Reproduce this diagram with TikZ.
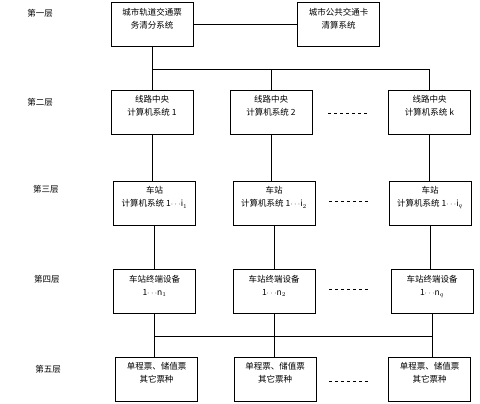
\documentclass[tikz,border=0pt]{standalone}
\usepackage{fontspec}
\newfontfamily\cjk{Noto Sans CJK SC}
\usetikzlibrary{positioning}

\begin{document}
\begin{tikzpicture}[x=1pt,y=-1pt,
    box/.style={draw,line width=0.8pt,minimum width=82pt,minimum height=44pt,inner sep=0pt},
    txt/.style={label={[anchor=north,yshift=-4pt,align=center,inner sep=2pt,
        font=\cjk\fontsize{8.5}{13}\selectfont]north:#1}},
    layer/.style={font=\cjk\fontsize{8.5}{10}\selectfont},
    wire/.style={line width=0.8pt},
    gap/.style={line width=0.8pt,dash pattern=on 3pt off 3pt}]
        \useasboundingbox (0,0) rectangle (480,404);

        % first layer
        \node[layer] (l1) at (40,13) {第一层};
        \node[box,txt={城市轨道交通票\\务清分系统}] (a1) at (152,24) {};
        \node[box,txt={城市公共交通卡\\清算系统}] (b1) at (338.5,24) {};
        \draw[wire] (a1) -- (b1);

        % second layer
        \node[layer] (l2) at (40,102) {第二层};
        \node[box,txt={线路中央\\计算机系统 1}] (c1) at (152,112) {};
        \node[box,txt={线路中央\\计算机系统 2}] (c2) at (271,112) {};
        \node[box,txt={线路中央\\计算机系统 k}] (c3) at (429.5,112) {};
        \coordinate (bus1) at (0,69);
        \draw[wire] (a1.south) -- (a1.south |- bus1) -- (c3.north |- bus1) -- (c3.north);
        \draw[wire] (c1.north) -- (c1.north |- bus1);
        \draw[wire] (c2.north) -- (c2.north |- bus1);
        \coordinate (g2a) at (328,113);
        \coordinate (g2b) at (369,113);
        \draw[gap] (g2a) -- (g2b);

        % third layer
        \node[layer] (l3) at (46,189) {第三层};
        \node[box,txt={车站\\计算机系统 1$\cdots$i$_1$}] (d1) at (154.5,203) {};
        \node[box,txt={车站\\计算机系统 1$\cdots$i$_2$}] (d2) at (274,203) {};
        \node[box,txt={车站\\计算机系统 1$\cdots$i$_q$}] (d3) at (430,203) {};
        \draw[wire] (c1.south) -- (c1.south |- d1.north);
        \draw[wire] (c2.south) -- (c2.south |- d2.north);
        \draw[wire] (c3.south) -- (c3.south |- d3.north);
        \coordinate (g3a) at (329,201);
        \coordinate (g3b) at (369,201);
        \draw[gap] (g3a) -- (g3b);

        % fourth layer
        \node[layer] (l4) at (47,279) {第四层};
        \node[box,txt={车站终端设备\\1$\cdots$n$_1$}] (e1) at (154.5,291.5) {};
        \node[box,txt={车站终端设备\\1$\cdots$n$_2$}] (e2) at (274,291.5) {};
        \node[box,txt={车站终端设备\\1$\cdots$n$_q$}] (e3) at (432,291.5) {};
        \draw[wire] (d1.south) -- (d1.south |- e1.north);
        \draw[wire] (d2.south) -- (d2.south |- e2.north);
        \draw[wire] (d3.south) -- (d3.south |- e3.north);
        \coordinate (g4a) at (329,289);
        \coordinate (g4b) at (369,289);
        \draw[gap] (g4a) -- (g4b);

        % fifth layer
        \node[layer] (l5) at (48,369) {第五层};
        \node[box,txt={单程票、储值票\\其它票种}] (f1) at (156.5,379) {};
        \node[box,txt={单程票、储值票\\其它票种}] (f2) at (275,379) {};
        \node[box,txt={单程票、储值票\\其它票种}] (f3) at (429.5,379) {};
        \coordinate (bus5) at (0,336);
        \draw[wire] (e1.south) -- (e1.south |- f1.north);
        \draw[wire] (e2.south) -- (e2.south |- f2.north);
        \draw[wire] (e3.south) -- (e3.south |- f3.north);
        \draw[wire] (e1.south |- bus5) -- (e3.south |- bus5);
        \coordinate (g5a) at (329,381);
        \coordinate (g5b) at (368,381);
        \draw[gap] (g5a) -- (g5b);
\end{tikzpicture}
\end{document}
